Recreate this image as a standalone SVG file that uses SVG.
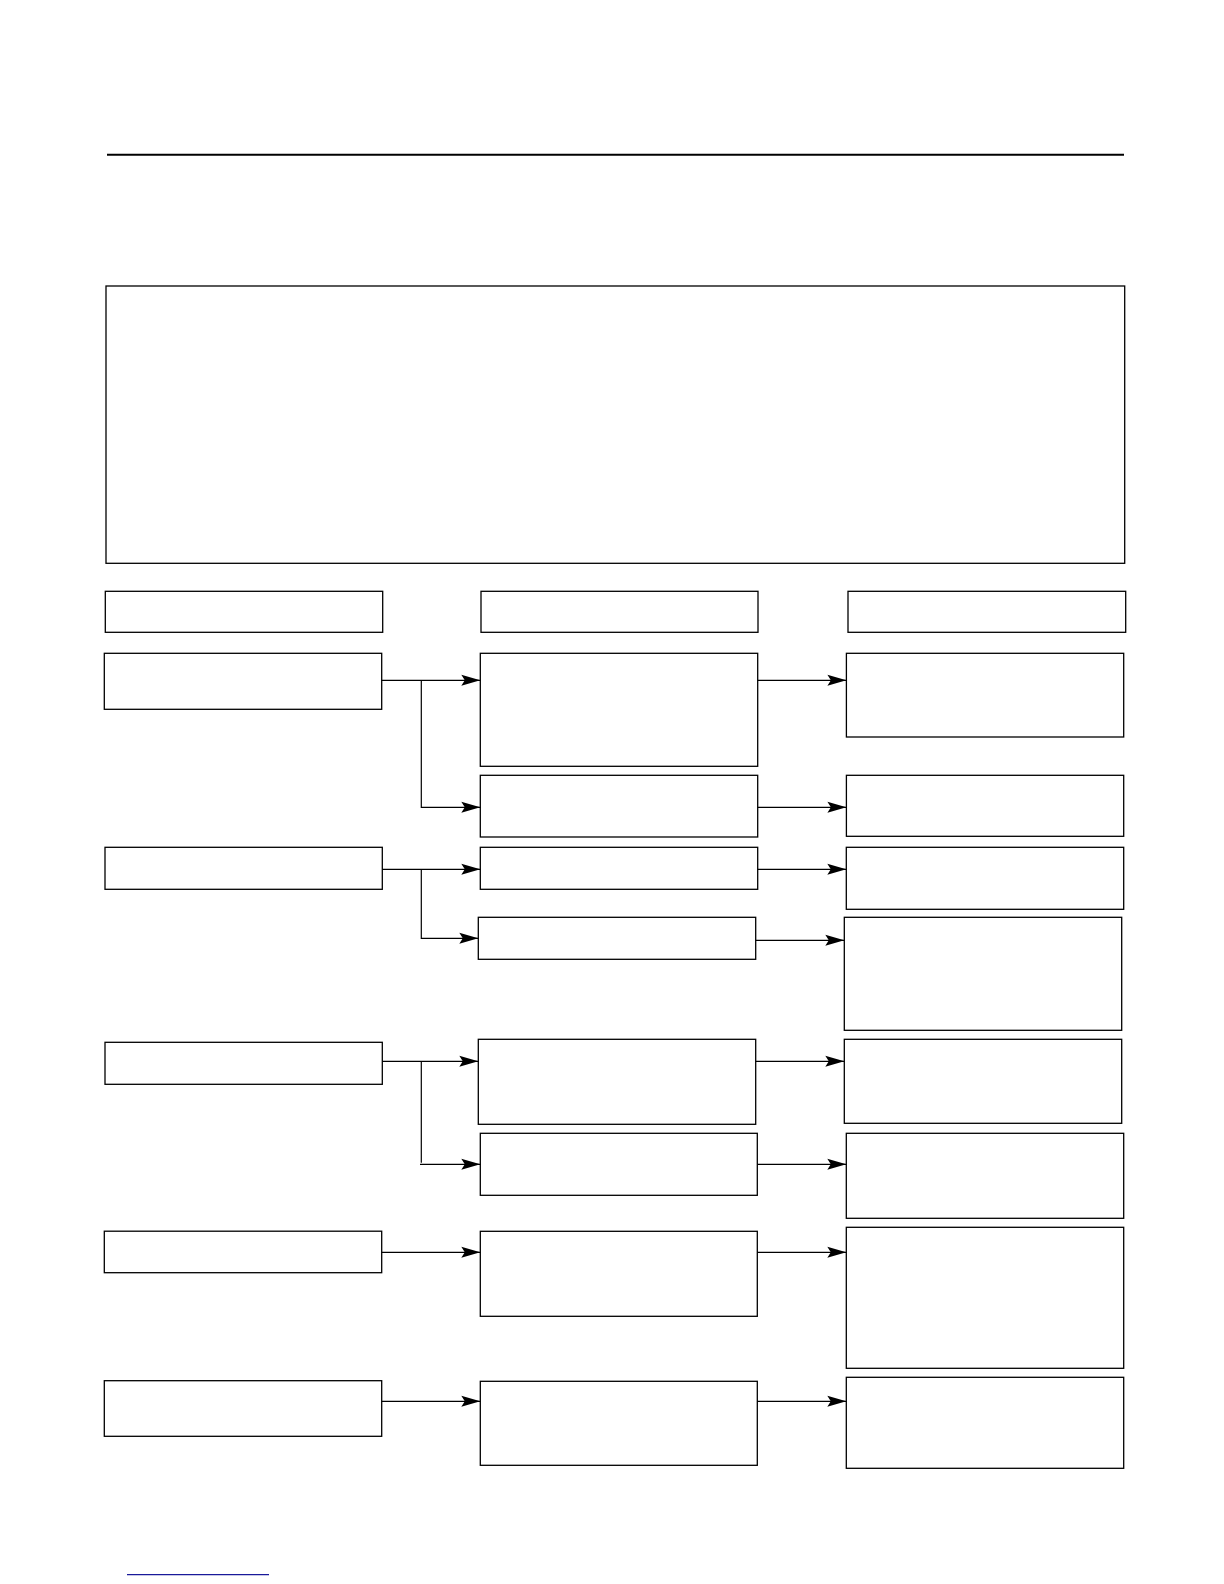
<svg xmlns="http://www.w3.org/2000/svg" width="1224" height="1584" viewBox="0 0 1224 1584">
  <style>
    .box { fill: #ffffff; stroke: #000000; stroke-width: 1.3; }
    .conn { fill: none; stroke: #000000; stroke-width: 1.2; }
    .arrow { marker-end: url(#ah); }
  </style>
  <defs>
    <marker id="ah" markerUnits="userSpaceOnUse" markerWidth="20" markerHeight="12" refX="19" refY="6" orient="auto">
      <path d="M0,0.5 L19,6 L0,11.5 L3.5,6 Z" fill="#000000"/>
    </marker>
  </defs>
  <rect x="0" y="0" width="1224" height="1584" fill="#ffffff"/>

  <line x1="107" y1="154.7" x2="1124" y2="154.7" stroke="#000000" stroke-width="2"/>
  <g id="intro"><rect class="box" x="106" y="286" width="1018.7" height="277.3"/></g>

  <g id="header1"><rect class="box" x="105.3" y="591.3" width="277.4" height="41"/></g>
  <g id="header2"><rect class="box" x="481" y="591.3" width="277" height="41"/></g>
  <g id="header3"><rect class="box" x="848" y="591.3" width="277.7" height="41"/></g>

  <g id="L1"><rect class="box" x="104.3" y="653.3" width="277.4" height="56"/></g>
  <g id="L2"><rect class="box" x="105" y="847.3" width="277.3" height="42"/></g>
  <g id="L3"><rect class="box" x="105" y="1042.3" width="277.3" height="42"/></g>
  <g id="L4"><rect class="box" x="104.3" y="1231.2" width="277.4" height="41.5"/></g>
  <g id="L5"><rect class="box" x="104.3" y="1380.7" width="277.4" height="55.6"/></g>

  <g id="M1"><rect class="box" x="480.3" y="653.3" width="277.4" height="113"/></g>
  <g id="M2"><rect class="box" x="480.3" y="775.3" width="277.4" height="61.7"/></g>
  <g id="M3"><rect class="box" x="480.3" y="847.3" width="277.4" height="42"/></g>
  <g id="M4"><rect class="box" x="478.3" y="917.3" width="277.4" height="42"/></g>
  <g id="M5"><rect class="box" x="478.3" y="1039.3" width="277.4" height="85"/></g>
  <g id="M6"><rect class="box" x="480.3" y="1133.3" width="277" height="62"/></g>
  <g id="M7"><rect class="box" x="480.3" y="1231.3" width="277" height="85"/></g>
  <g id="M8"><rect class="box" x="480.3" y="1381.3" width="277" height="84"/></g>

  <g id="R1"><rect class="box" x="846.4" y="653.3" width="277.3" height="83.7"/></g>
  <g id="R2"><rect class="box" x="846.4" y="775.3" width="277.3" height="61"/></g>
  <g id="R3"><rect class="box" x="846.3" y="847.3" width="277.4" height="62"/></g>
  <g id="R4"><rect class="box" x="844.3" y="917.3" width="277.4" height="113"/></g>
  <g id="R5"><rect class="box" x="844.3" y="1039.3" width="277.4" height="84"/></g>
  <g id="R6"><rect class="box" x="846.3" y="1133.3" width="277.4" height="85"/></g>
  <g id="R7"><rect class="box" x="846.3" y="1227.3" width="277.4" height="141"/></g>
  <g id="R8"><rect class="box" x="846.3" y="1377.3" width="277.4" height="91"/></g>

  <g id="connectors">
    <path class="conn arrow" d="M381.7,680.3 H480.3"/>
    <path class="conn arrow" d="M421.3,680.3 V807.3 H480.3"/>
    <path class="conn arrow" d="M757.7,680.3 H846.4"/>
    <path class="conn arrow" d="M757.7,807.3 H846.4"/>

    <path class="conn arrow" d="M382.3,869.3 H480.3"/>
    <path class="conn arrow" d="M421.3,869.3 V938.3 H478.3"/>
    <path class="conn arrow" d="M757.7,869.3 H846.3"/>
    <path class="conn arrow" d="M755.7,940.3 H844.3"/>

    <path class="conn arrow" d="M382.3,1061.3 H478.3"/>
    <path class="conn" d="M421.3,1061.3 V1162.8"/>
    <path class="conn arrow" d="M420,1164.3 H480.3"/>
    <path class="conn arrow" d="M755.7,1061.3 H844.3"/>
    <path class="conn arrow" d="M757.3,1164.3 H846.3"/>

    <path class="conn arrow" d="M381.7,1252.3 H480.3"/>
    <path class="conn arrow" d="M757.3,1252.3 H846.3"/>

    <path class="conn arrow" d="M381.7,1401.3 H480.3"/>
    <path class="conn arrow" d="M757.3,1401.3 H846.3"/>
  </g>

  <line x1="127" y1="1574.7" x2="269" y2="1574.7" stroke="#1a1a9a" stroke-width="1.3"/>
</svg>
